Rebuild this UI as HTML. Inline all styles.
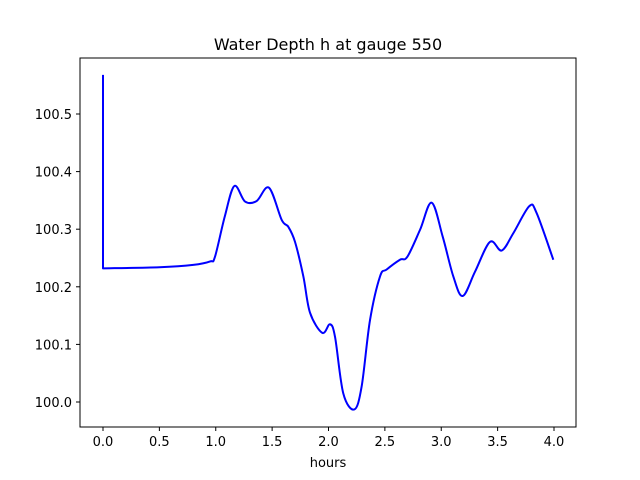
<!DOCTYPE html>
<html><head><meta charset="utf-8"><style>
body{margin:0;background:#fff}
svg{display:block;font-family:"DejaVu Sans","Liberation Sans",sans-serif}
</style></head><body>
<svg id="chart" width="640" height="480" viewBox="0 0 640 480" xmlns="http://www.w3.org/2000/svg">
<rect width="640" height="480" fill="#fff"/>
<text x="328" y="50" text-anchor="middle" font-size="16">Water Depth h at gauge 550</text>
<g id="axes"></g>
<rect x="80" y="58" width="496" height="369" fill="none" stroke="#000" stroke-width="1"/>
<text x="328" y="467" text-anchor="middle" font-size="13">hours</text>
</svg>
<script>
const hours=[0,0,0.5,0.8,0.95,0.993,1.08,1.165,1.26,1.363,1.472,1.585,1.644,1.703,1.777,1.836,1.945,2.013,2.058,2.131,2.229,2.294,2.368,2.457,2.516,2.634,2.699,2.812,2.915,3.013,3.107,3.19,3.299,3.432,3.536,3.639,3.781,3.846,3.994];
const depth=[100.568,100.232,100.234,100.238,100.244,100.252,100.322,100.375,100.348,100.349,100.372,100.316,100.304,100.278,100.218,100.155,100.12,100.135,100.113,100.015,99.987,100.027,100.142,100.218,100.23,100.247,100.252,100.299,100.346,100.287,100.218,100.184,100.226,100.278,100.263,100.293,100.34,100.328,100.247];
const xTicks=[0,0.5,1,1.5,2,2.5,3,3.5,4];
const yTicks=[100.0,100.1,100.2,100.3,100.4,100.5];
const X=h=>103+h*112.75;
const Y=v=>402-(v-100)*576;
const ns="http://www.w3.org/2000/svg";
const g=document.getElementById('axes');
function el(t,a){const e=document.createElementNS(ns,t);for(const k in a)e.setAttribute(k,a[k]);g.appendChild(e);return e;}
xTicks.forEach(t=>{
 const l=el('line',{x1:X(t),x2:X(t),y1:427,y2:431,stroke:'#000'});
 
 
 const s=el('text',{x:X(t),y:446,'text-anchor':'middle','font-size':'13'});
 s.textContent=t.toFixed(1);
 
 
});
yTicks.forEach(t=>{
 const l=el('line',{x1:76,x2:80,y1:Y(t),y2:Y(t),stroke:'#000'});
 
 
 const s=el('text',{x:72,y:Y(t)+5,'text-anchor':'end','font-size':'13'});
 s.textContent=t.toFixed(1);
 
 
});
const P=hours.map((h,i)=>[X(h),Y(depth[i])]);
let d=`M${P[0][0]},${P[0][1]} L${P[1][0]},${P[1][1]}`;
for(let i=1;i<P.length-1;i++){
 const p0=P[Math.max(i-1,1)],p1=P[i],p2=P[i+1],p3=P[Math.min(i+2,P.length-1)];
 const c1=[p1[0]+(p2[0]-p0[0])/6,p1[1]+(p2[1]-p0[1])/6];
 const c2=[p2[0]-(p3[0]-p1[0])/6,p2[1]-(p3[1]-p1[1])/6];
 d+=` C${c1[0]},${c1[1]} ${c2[0]},${c2[1]} ${p2[0]},${p2[1]}`;
}
const line=el('path',{d:d,fill:'none',stroke:'#0000ff','stroke-width':'2','stroke-linejoin':'round'});


</script>
</body></html>
